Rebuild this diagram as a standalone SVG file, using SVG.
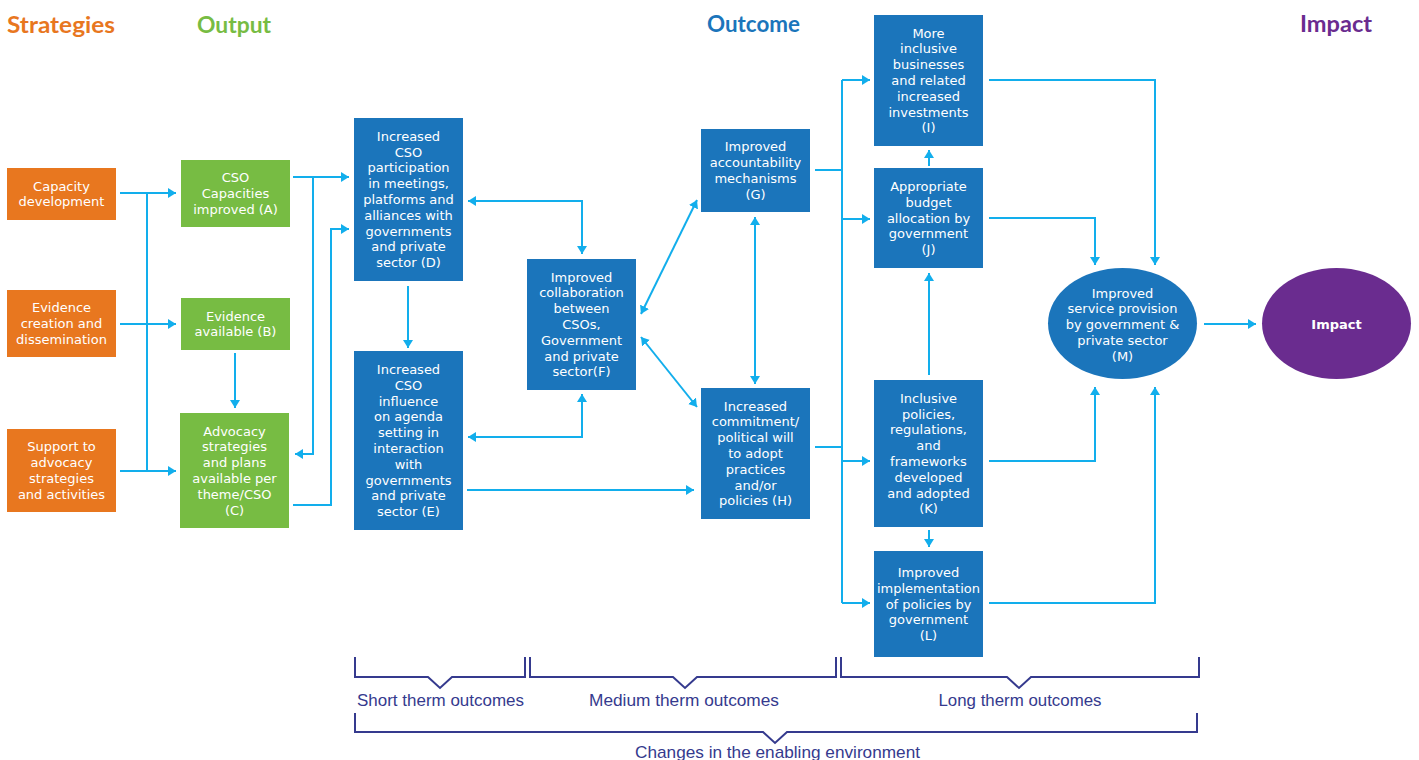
<svg xmlns="http://www.w3.org/2000/svg" width="1419" height="760" viewBox="0 0 1419 760">
<style>
.hdr{font-family:Lato,"Liberation Sans",sans-serif;font-weight:700;font-size:22px}
.orange{fill:#E8771F}
.green{fill:#77BC43}
.blue{fill:#1B75BB}
.purple{fill:#6A2C8F}
.t{font-family:"DejaVu Sans",Verdana,sans-serif;font-size:13px;fill:#FFFFFF;text-anchor:middle}
.tb{font-weight:700}
.c{fill:none;stroke:#12AEEC;stroke-width:2}
.br{fill:none;stroke:#353A8E;stroke-width:2}
.bt{font-family:"Liberation Sans",Arial,sans-serif;font-size:17px;fill:#353A8E;text-anchor:middle}
</style>
<defs>
<marker id="ah" markerUnits="userSpaceOnUse" markerWidth="9" markerHeight="11" refX="8" refY="5" orient="auto-start-reverse" viewBox="0 0 9 10">
<path d="M0,0 L8,5 L0,10 z" fill="#12AEEC"/>
</marker>
</defs>
<rect width="1419" height="760" fill="#FFFFFF"/>

<g id="headers">
<text class="hdr orange" x="7" y="33" textLength="108" lengthAdjust="spacingAndGlyphs">Strategies</text>
<text class="hdr green" x="197" y="33" textLength="74" lengthAdjust="spacingAndGlyphs">Output</text>
<text class="hdr blue" x="707" y="32" textLength="93" lengthAdjust="spacingAndGlyphs">Outcome</text>
<text class="hdr purple" x="1300" y="32" textLength="72" lengthAdjust="spacingAndGlyphs">Impact</text>
</g>

<g id="connectors">
<path class="c" d="M120,193 H176" marker-end="url(#ah)"/>
<path class="c" d="M120,324 H176" marker-end="url(#ah)"/>
<path class="c" d="M120,471 H176" marker-end="url(#ah)"/>
<path class="c" d="M147,193 V471"/>
<path class="c" d="M235,353 V408" marker-end="url(#ah)"/>
<path class="c" d="M293,177 H349" marker-end="url(#ah)"/>
<path class="c" d="M313,177 V454 H295" marker-end="url(#ah)"/>
<path class="c" d="M293,505 H331 V229 H349" marker-end="url(#ah)"/>
<path class="c" d="M408,286 V348" marker-end="url(#ah)"/>
<path class="c" d="M468,201 H582 V254" marker-start="url(#ah)" marker-end="url(#ah)"/>
<path class="c" d="M468,437 H582 V394" marker-start="url(#ah)" marker-end="url(#ah)"/>
<path class="c" d="M467,490 H694" marker-end="url(#ah)"/>
<path class="c" d="M641,314 L697,200" marker-start="url(#ah)" marker-end="url(#ah)"/>
<path class="c" d="M641,337 L697,407" marker-start="url(#ah)" marker-end="url(#ah)"/>
<path class="c" d="M755,217 V384" marker-start="url(#ah)" marker-end="url(#ah)"/>
<path class="c" d="M815,170 H842"/>
<path class="c" d="M815,447 H842"/>
<path class="c" d="M842,80 V603"/>
<path class="c" d="M842,80 H870" marker-end="url(#ah)"/>
<path class="c" d="M842,219 H870" marker-end="url(#ah)"/>
<path class="c" d="M842,461 H870" marker-end="url(#ah)"/>
<path class="c" d="M842,603 H870" marker-end="url(#ah)"/>
<path class="c" d="M929,166 V150" marker-end="url(#ah)"/>
<path class="c" d="M929,375 V273" marker-end="url(#ah)"/>
<path class="c" d="M929,530 V547" marker-end="url(#ah)"/>
<path class="c" d="M989,80 H1155 V265" marker-end="url(#ah)"/>
<path class="c" d="M989,218 H1095 V265" marker-end="url(#ah)"/>
<path class="c" d="M989,461 H1095 V387" marker-end="url(#ah)"/>
<path class="c" d="M989,603 H1155 V387" marker-end="url(#ah)"/>
<path class="c" d="M1204,324 H1256" marker-end="url(#ah)"/>
</g>

<g id="s1">
<rect x="7" y="168" width="109" height="52" fill="#E8771F"/>
<text class="t" x="61.5" y="190.6"><tspan x="61.5">Capacity</tspan><tspan x="61.5" dy="15.8">development</tspan></text>
</g>
<g id="s2">
<rect x="7" y="290" width="109" height="67" fill="#E8771F"/>
<text class="t" x="61.5" y="312.2"><tspan x="61.5">Evidence</tspan><tspan x="61.5" dy="15.8">creation and</tspan><tspan x="61.5" dy="15.8">dissemination</tspan></text>
</g>
<g id="s3">
<rect x="7" y="429" width="109" height="83" fill="#E8771F"/>
<text class="t" x="61.5" y="451.3"><tspan x="61.5">Support to</tspan><tspan x="61.5" dy="15.8">advocacy</tspan><tspan x="61.5" dy="15.8">strategies</tspan><tspan x="61.5" dy="15.8">and activities</tspan></text>
</g>

<g id="A">
<rect x="181" y="160" width="109" height="67" fill="#77BC43"/>
<text class="t" x="235.5" y="182.2"><tspan x="235.5">CSO</tspan><tspan x="235.5" dy="15.8">Capacities</tspan><tspan x="235.5" dy="15.8">improved (A)</tspan></text>
</g>
<g id="B">
<rect x="181" y="298" width="109" height="52" fill="#77BC43"/>
<text class="t" x="235.5" y="320.6"><tspan x="235.5">Evidence</tspan><tspan x="235.5" dy="15.8">available (B)</tspan></text>
</g>
<g id="C">
<rect x="180" y="413" width="109" height="115" fill="#77BC43"/>
<text class="t" x="234.5" y="435.5"><tspan x="234.5">Advocacy</tspan><tspan x="234.5" dy="15.8">strategies</tspan><tspan x="234.5" dy="15.8">and plans</tspan><tspan x="234.5" dy="15.8">available per</tspan><tspan x="234.5" dy="15.8">theme/CSO</tspan><tspan x="234.5" dy="15.8">(C)</tspan></text>
</g>

<g id="D">
<rect x="354" y="118" width="109" height="163" fill="#1B75BB"/>
<text class="t" x="408.5" y="140.8"><tspan x="408.5">Increased</tspan><tspan x="408.5" dy="15.8">CSO</tspan><tspan x="408.5" dy="15.8">participation</tspan><tspan x="408.5" dy="15.8">in meetings,</tspan><tspan x="408.5" dy="15.8">platforms and</tspan><tspan x="408.5" dy="15.8">alliances with</tspan><tspan x="408.5" dy="15.8">governments</tspan><tspan x="408.5" dy="15.8">and private</tspan><tspan x="408.5" dy="15.8">sector (D)</tspan></text>
</g>
<g id="E">
<rect x="354" y="351" width="109" height="179" fill="#1B75BB"/>
<text class="t" x="408.5" y="373.9"><tspan x="408.5">Increased</tspan><tspan x="408.5" dy="15.8">CSO</tspan><tspan x="408.5" dy="15.8">influence</tspan><tspan x="408.5" dy="15.8">on agenda</tspan><tspan x="408.5" dy="15.8">setting in</tspan><tspan x="408.5" dy="15.8">interaction</tspan><tspan x="408.5" dy="15.8">with</tspan><tspan x="408.5" dy="15.8">governments</tspan><tspan x="408.5" dy="15.8">and private</tspan><tspan x="408.5" dy="15.8">sector (E)</tspan></text>
</g>
<g id="F">
<rect x="527" y="259" width="109" height="131" fill="#1B75BB"/>
<text class="t" x="581.5" y="281.6"><tspan x="581.5">Improved</tspan><tspan x="581.5" dy="15.8">collaboration</tspan><tspan x="581.5" dy="15.8">between</tspan><tspan x="581.5" dy="15.8">CSOs,</tspan><tspan x="581.5" dy="15.8">Government</tspan><tspan x="581.5" dy="15.8">and private</tspan><tspan x="581.5" dy="15.8">sector(F)</tspan></text>
</g>
<g id="G">
<rect x="701" y="129" width="109" height="83" fill="#1B75BB"/>
<text class="t" x="755.5" y="151.3"><tspan x="755.5">Improved</tspan><tspan x="755.5" dy="15.8">accountability</tspan><tspan x="755.5" dy="15.8">mechanisms</tspan><tspan x="755.5" dy="15.8">(G)</tspan></text>
</g>
<g id="H">
<rect x="701" y="388" width="109" height="131" fill="#1B75BB"/>
<text class="t" x="755.5" y="410.6"><tspan x="755.5">Increased</tspan><tspan x="755.5" dy="15.8">commitment/</tspan><tspan x="755.5" dy="15.8">political will</tspan><tspan x="755.5" dy="15.8">to adopt</tspan><tspan x="755.5" dy="15.8">practices</tspan><tspan x="755.5" dy="15.8">and/or</tspan><tspan x="755.5" dy="15.8">policies (H)</tspan></text>
</g>
<g id="I">
<rect x="874" y="15" width="109" height="131" fill="#1B75BB"/>
<text class="t" x="928.5" y="37.6"><tspan x="928.5">More</tspan><tspan x="928.5" dy="15.8">inclusive</tspan><tspan x="928.5" dy="15.8">businesses</tspan><tspan x="928.5" dy="15.8">and related</tspan><tspan x="928.5" dy="15.8">increased</tspan><tspan x="928.5" dy="15.8">investments</tspan><tspan x="928.5" dy="15.8">(I)</tspan></text>
</g>
<g id="J">
<rect x="874" y="168" width="109" height="100" fill="#1B75BB"/>
<text class="t" x="928.5" y="190.9"><tspan x="928.5">Appropriate</tspan><tspan x="928.5" dy="15.8">budget</tspan><tspan x="928.5" dy="15.8">allocation by</tspan><tspan x="928.5" dy="15.8">government</tspan><tspan x="928.5" dy="15.8">(J)</tspan></text>
</g>
<g id="K">
<rect x="874" y="380" width="109" height="147" fill="#1B75BB"/>
<text class="t" x="928.5" y="402.7"><tspan x="928.5">Inclusive</tspan><tspan x="928.5" dy="15.8">policies,</tspan><tspan x="928.5" dy="15.8">regulations,</tspan><tspan x="928.5" dy="15.8">and</tspan><tspan x="928.5" dy="15.8">frameworks</tspan><tspan x="928.5" dy="15.8">developed</tspan><tspan x="928.5" dy="15.8">and adopted</tspan><tspan x="928.5" dy="15.8">(K)</tspan></text>
</g>
<g id="L">
<rect x="874" y="551" width="109" height="106" fill="#1B75BB"/>
<text class="t" x="928.5" y="576.9"><tspan x="928.5">Improved</tspan><tspan x="928.5" dy="15.8">implementation</tspan><tspan x="928.5" dy="15.8">of policies by</tspan><tspan x="928.5" dy="15.8">government</tspan><tspan x="928.5" dy="15.8">(L)</tspan></text>
</g>
<g id="M">
<ellipse cx="1122.5" cy="323.5" rx="74.5" ry="55.5" fill="#1B75BB"/>
<text class="t" x="1122.5" y="297.5"><tspan x="1122.5">Improved</tspan><tspan x="1122.5" dy="15.8">service provision</tspan><tspan x="1122.5" dy="15.8">by government &amp;</tspan><tspan x="1122.5" dy="15.8">private sector</tspan><tspan x="1122.5" dy="15.8">(M)</tspan></text>
</g>
<g id="impact">
<ellipse cx="1336.5" cy="323.5" rx="74.5" ry="55.5" fill="#6A2C8F"/>
<text class="t tb" x="1336.5" y="328.5">Impact</text>
</g>

<g id="brackets">
<path class="br" d="M355,657 V677 H428 L440,688 L452,677 H525 V657"/>
<path class="br" d="M530,657 V677 H673 L685,688 L697,677 H836 V657"/>
<path class="br" d="M841,657 V677 H1007 L1019,688 L1031,677 H1199 V657"/>
<path class="br" d="M355,713 V732 H763 L775,743 L787,732 H1197 V713"/>
<text class="bt" x="440.5" y="706" textLength="167" lengthAdjust="spacingAndGlyphs">Short therm outcomes</text>
<text class="bt" x="684" y="706" textLength="190" lengthAdjust="spacingAndGlyphs">Medium therm outcomes</text>
<text class="bt" x="1020" y="706" textLength="163" lengthAdjust="spacingAndGlyphs">Long therm outcomes</text>
<text class="bt" x="777.5" y="758" textLength="285" lengthAdjust="spacingAndGlyphs">Changes in the enabling environment</text>
</g>
</svg>
